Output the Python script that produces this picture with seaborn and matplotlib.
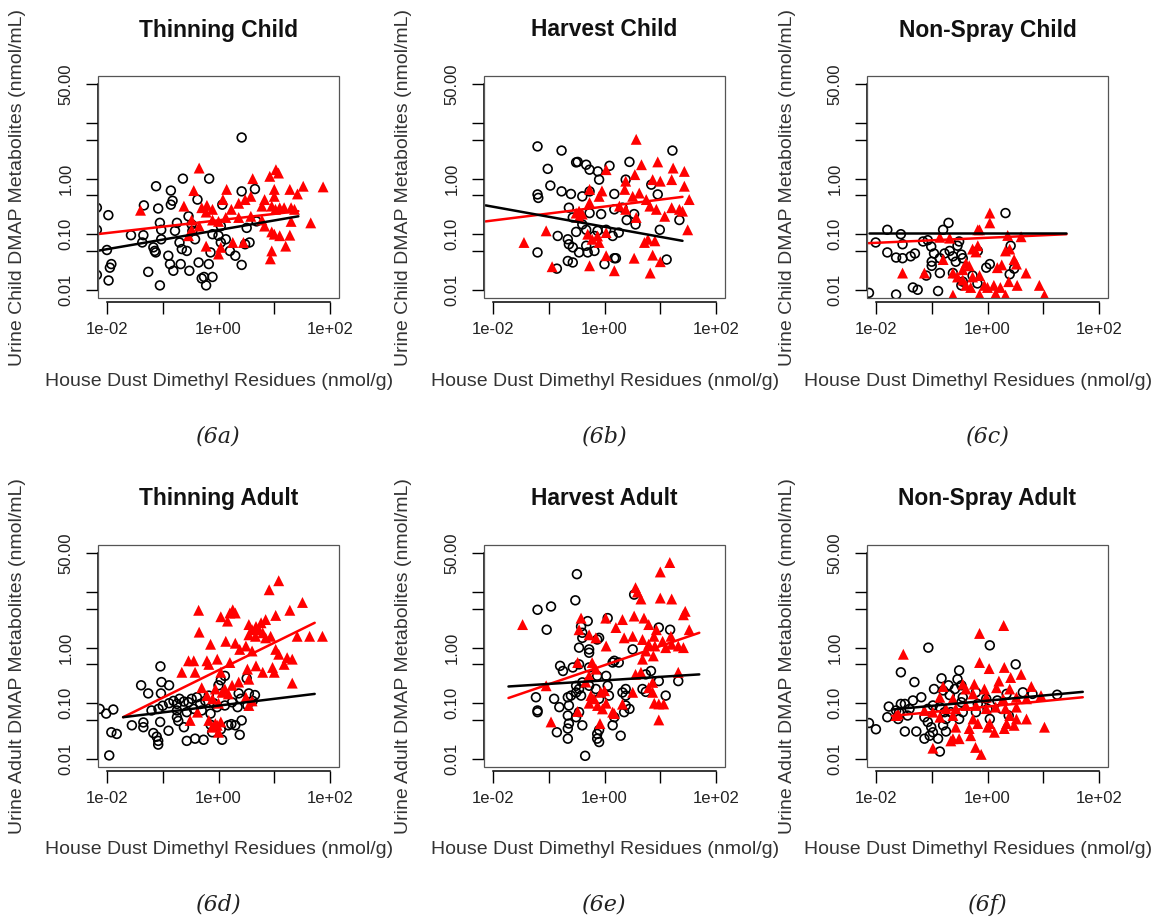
import numpy as np
import pandas as pd
import matplotlib
matplotlib.use("Agg")
import matplotlib.pyplot as plt
from matplotlib.patches import Rectangle
import seaborn as sns

sns.set_style("white")
plt.rcParams['font.family'] = ['Liberation Sans', 'DejaVu Sans']

# ---------------- data (x = house dust residue nmol/g, y = urine DMAP nmol/mL) -------------
titles = ["Thinning Child", "Harvest Child", "Non-Spray Child",
          "Thinning Adult", "Harvest Adult", "Non-Spray Adult"]
captions = ["(6a)", "(6b)", "(6c)", "(6d)", "(6e)", "(6f)"]
ylabels = ["Urine Child DMAP Metabolites (nmol/mL)"] * 3 + ["Urine Adult DMAP Metabolites (nmol/mL)"] * 3
xlabel = "House Dust Dimethyl Residues (nmol/g)"

x_ticks = [0.01, 0.1, 1, 10, 100]
x_ticklabels = ["1e-02", "", "1e+00", "", "1e+02"]
y_ticks = [0.01, 0.05, 0.1, 0.5, 1, 5, 10, 50]
y_ticklabels = ["0.01", "", "0.10", "", "1.00", "", "", "50.00"]

# Panel a: Thinning Child
a_circles = [(2.6,5.5),(0.23,1.0),(0.68,1.0),(0.076,0.73),(0.14,0.61),(0.15,0.4),(0.14,0.34),(0.046,0.33),
    (0.083,0.29),(0.0106,0.22),(0.0066,0.30),(0.0066,0.12),(0.010,0.052),(0.0066,0.0185),(0.0113,0.025),
    (0.012,0.029),(0.0107,0.0147),(0.055,0.021),(0.089,0.012),(0.027,0.096),(0.045,0.096),(0.043,0.071),
    (0.068,0.058),(0.072,0.050),(0.075,0.047),(0.089,0.16),(0.094,0.12),(0.094,0.081),(0.126,0.041),
    (0.135,0.029),(0.155,0.022),(0.21,0.029),(0.30,0.022),(0.166,0.115),(0.18,0.16),(0.20,0.071),(0.22,0.054),
    (0.27,0.05),(0.29,0.21),(0.33,0.15),(0.34,0.115),(0.38,0.081),(0.42,0.42),(0.44,0.031),(0.50,0.016),
    (0.55,0.017),(0.60,0.012),(0.78,0.017),(0.67,0.029),(0.72,0.047),(0.78,0.10),(1.0,0.094),(1.1,0.071),
    (1.17,0.34),(1.35,0.081),(1.6,0.05),(2.0,0.041),(2.6,0.028),(2.6,0.59),(4.5,0.65),(3.0,0.066),(3.6,0.071),
    (3.2,0.13),(4.8,0.17),(1.1,0.14)]
a_triangles = [(0.45,1.55),(10.7,1.45),(11.9,1.26),(8.3,1.1),(4.1,1.0),(75,0.71),(33,0.73),(19,0.64),(26,0.53),
    (10,0.64),(10,0.48),(1.4,0.64),(0.36,0.61),(0.04,0.27),(0.24,0.32),(0.5,0.3),(0.62,0.33),(0.78,0.28),
    (0.6,0.25),(3.8,0.48),(3.0,0.42),(2.3,0.36),(1.7,0.28),(1.2,0.42),(6.7,0.42),(6.0,0.32),(9.0,0.32),
    (10.5,0.28),(12.5,0.30),(15,0.30),(20,0.30),(23,0.28),(20,0.17),(45,0.16),(6.0,0.18),(6.7,0.14),(9.0,0.11),
    (10,0.10),(12.5,0.094),(19,0.096),(16,0.061),(9.0,0.05),(8.5,0.036),(1.8,0.071),(2.8,0.071),(1.0,0.044),
    (1.1,0.058),(0.6,0.061),(0.29,0.094),(0.33,0.12),(0.45,0.14),(0.33,0.18),(0.78,0.18),(1.0,0.17),
    (1.35,0.20),(2.3,0.20),(3.8,0.21)]
a_fit_x = [0.0066, 27]
a_fit_circ = [0.05, 0.21]
a_fit_tri = [0.10, 0.26]

# Panel b: Harvest Child
b_circles = [(0.063,3.8),(0.17,3.2),(16.5,3.2),(0.096,1.5),(0.31,1.96),(0.33,2.0),(0.54,1.45),(0.76,1.35),
    (0.47,1.78),(1.23,1.7),(2.8,2.0),(0.8,0.96),(2.4,0.96),(0.107,0.75),(0.063,0.52),(0.065,0.45),(0.17,0.59),
    (0.25,0.53),(0.40,0.48),(0.54,0.59),(1.5,0.53),(6.9,0.78),(9.0,0.52),(0.23,0.30),(0.35,0.23),(0.27,0.20),
    (0.54,0.24),(0.87,0.23),(1.5,0.28),(2.1,0.30),(2.5,0.18),(3.6,0.15),(3.4,0.23),(22,0.18),(9.8,0.12),
    (0.145,0.093),(0.22,0.081),(0.23,0.066),(0.27,0.058),(0.35,0.047),(0.47,0.062),(0.31,0.11),(0.40,0.15),
    (0.47,0.12),(0.66,0.093),(0.75,0.115),(1.07,0.12),(1.4,0.093),(1.8,0.107),(0.063,0.047),(0.14,0.024),
    (0.22,0.033),(0.27,0.031),(1.0,0.029),(1.5,0.037),(1.6,0.037),(13,0.035),(0.66,0.05),(0.5,0.047)]
b_triangles = [(3.7,5.1),(4.6,1.78),(9.0,2.0),(17,1.55),(27,1.35),(3.5,1.18),(2.4,0.9),(7.3,0.96),(10,0.9),
    (16,0.96),(27,0.73),(33,0.42),(0.9,0.6),(0.54,0.64),(0.8,0.48),(1.07,1.45),(0.54,0.37),(0.35,0.26),
    (0.31,0.24),(2.3,0.64),(3.2,0.48),(4.2,0.55),(5.6,0.42),(6.5,0.32),(8.5,0.28),(12,0.21),(16,0.30),
    (22,0.28),(25,0.26),(31,0.12),(3.7,0.20),(2.4,0.28),(1.85,0.32),(0.09,0.115),(0.036,0.071),(0.5,0.10),
    (0.6,0.081),(0.75,0.093),(1.07,0.107),(0.8,0.071),(5.2,0.071),(6.0,0.081),(8.0,0.076),(1.07,0.041),
    (3.4,0.037),(7.3,0.042),(10,0.032),(0.54,0.027),(1.5,0.022),(6.6,0.020),(0.115,0.026),(0.35,0.20),
    (0.40,0.23)]
b_fit_x = [0.0074, 25]
b_fit_circ = [0.33, 0.076]
b_fit_tri = [0.17, 0.47]

# Panel c: Non-Spray Child
c_circles = [(2.1,0.24),(0.2,0.16),(0.16,0.12),(0.016,0.12),(0.028,0.10),(0.0099,0.071),(0.016,0.047),
    (0.023,0.038),(0.030,0.037),(0.050,0.045),(0.042,0.040),(0.030,0.066),(0.070,0.074),(0.085,0.078),
    (0.098,0.060),(0.11,0.045),(0.10,0.032),(0.14,0.037),(0.17,0.045),(0.21,0.050),(0.24,0.040),(0.29,0.062),
    (0.31,0.074),(0.27,0.032),(0.34,0.043),(0.36,0.037),(0.67,0.050),(2.6,0.062),(0.10,0.027),(0.08,0.018),
    (0.14,0.020),(0.95,0.025),(1.1,0.029),(3.0,0.024),(0.046,0.011),(0.056,0.010),(0.13,0.0095),
    (0.023,0.0082),(0.0075,0.0088),(0.36,0.014),(0.34,0.012),(0.54,0.018),(0.66,0.013),(2.5,0.019),
    (0.24,0.020)]
c_triangles = [(1.1,0.24),(1.1,0.16),(0.67,0.12),(0.72,0.12),(0.14,0.088),(0.21,0.085),(2.3,0.095),(4.0,0.09),
    (0.67,0.062),(0.54,0.054),(0.62,0.048),(2.5,0.054),(2.1,0.05),(3.0,0.035),(3.3,0.029),(1.8,0.028),
    (1.5,0.025),(4.9,0.020),(8.5,0.012),(0.030,0.020),(0.074,0.020),(0.16,0.035),(0.41,0.030),(0.47,0.027),
    (0.36,0.023),(0.24,0.020),(0.29,0.017),(0.36,0.015),(0.54,0.017),(0.72,0.018),(0.41,0.012),(0.50,0.011),
    (0.88,0.012),(1.0,0.011),(1.3,0.012),(1.4,0.0085),(1.7,0.011),(2.4,0.014),(3.4,0.012),(0.24,0.008),
    (2.1,0.008),(0.72,0.0082),(10.5,0.008)]
c_fit_x = [0.0074, 26]
c_fit_circ = [0.107, 0.107]
c_fit_tri = [0.069, 0.10]

# Panel d: Thinning Adult
d_circles = [(0.091,0.46),(0.095,0.24),(0.13,0.21),(0.041,0.21),(0.055,0.15),(0.093,0.15),(1.3,0.31),(1.1,0.26),
    (3.2,0.28),(1.0,0.21),(4.5,0.14),(3.5,0.15),(2.3,0.15),(2.5,0.12),(0.0074,0.079),(0.0097,0.065),
    (0.013,0.077),(0.028,0.040),(0.045,0.045),(0.045,0.037),(0.012,0.030),(0.015,0.028),(0.011,0.0115),
    (0.068,0.029),(0.078,0.025),(0.083,0.021),(0.083,0.018),(0.127,0.032),(0.09,0.046),(0.19,0.048),
    (0.18,0.056),(0.24,0.037),(0.27,0.021),(0.38,0.023),(0.54,0.022),(0.77,0.030),(0.72,0.041),(1.16,0.022),
    (1.1,0.034),(1.5,0.040),(1.7,0.042),(2.0,0.040),(2.6,0.049),(2.4,0.027),(0.063,0.074),(0.084,0.079),
    (0.10,0.09),(0.13,0.10),(0.156,0.11),(0.18,0.097),(0.20,0.12),(0.24,0.107),(0.29,0.104),(0.33,0.12),
    (0.41,0.128),(0.47,0.097),(0.58,0.11),(0.67,0.137),(0.82,0.10),(0.94,0.085),(1.3,0.091),(1.75,0.104),
    (2.2,0.085),(3.3,0.091),(4.1,0.11),(0.18,0.074),(0.27,0.069),(0.36,0.079),(0.50,0.074),(0.72,0.065)]
d_triangles = [(12,16),(8.1,11),(32,6.5),(19,4.7),(0.44,4.7),(1.8,4.8),(2.0,4.2),(1.6,4.2),(1.1,3.6),(1.45,3.0),
    (10.6,3.8),(7.0,3.2),(5.8,2.8),(4.7,2.4),(3.5,2.6),(4.0,2.1),(5.3,2.1),(6.2,1.85),(7.0,1.5),(8.6,1.6),
    (4.6,1.6),(3.5,1.7),(0.45,1.9),(25.7,1.6),(43,1.6),(73,1.6),(0.72,1.15),(1.35,1.3),(2.0,1.2),(3.1,1.07),
    (4.0,0.87),(2.4,0.93),(10.6,0.93),(12,0.76),(17,0.66),(0.29,0.58),(0.36,0.58),(0.62,0.58),(0.67,0.50),
    (1.6,0.54),(0.95,0.62),(0.22,0.36),(0.38,0.36),(1.1,0.36),(4.7,0.47),(6.2,0.36),(9.3,0.44),(10,0.36),
    (15,0.50),(21,0.62),(21,0.23),(3.3,0.41),(3.5,0.27),(2.3,0.24),(1.75,0.21),(1.3,0.18),(0.88,0.18),
    (0.5,0.19),(0.62,0.137),(0.78,0.12),(1.0,0.10),(1.16,0.157),(1.5,0.147),(0.42,0.069),(0.31,0.049),
    (0.67,0.049),(0.88,0.043),(0.77,0.037),(1.1,0.046),(0.95,0.040),(1.0,0.030),(3.1,0.128),(3.5,0.091),
    (4.0,0.11)]
d_fit_x = [0.0195, 53]
d_fit_circ = [0.056, 0.147]
d_fit_tri = [0.056, 2.8]

# Panel e: Harvest Adult
e_circles = [(0.32,21),(0.30,7.1),(3.4,9.0),(0.063,4.8),(0.11,5.5),(0.092,2.1),(0.38,2.4),(0.50,3.0),(0.40,1.85),
    (0.40,1.5),(0.80,1.5),(0.74,1.4),(0.35,1.0),(0.53,0.93),(0.53,0.81),(1.14,3.4),(9.4,2.3),(15,2.1),
    (3.2,0.93),(1.8,0.54),(0.16,0.47),(0.18,0.38),(0.27,0.44),(0.35,0.50),(0.53,0.44),(0.74,0.31),(1.07,0.31),
    (1.4,0.54),(1.5,0.58),(9.4,0.25),(21,0.25),(5.5,0.33),(6.8,0.38),(12.5,0.137),(5.5,0.16),(4.8,0.18),
    (2.4,0.18),(2.4,0.137),(0.059,0.128),(0.125,0.12),(0.063,0.074),(0.063,0.069),(0.22,0.128),(0.25,0.137),
    (0.31,0.206),(0.35,0.18),(0.40,0.237),(0.31,0.156),(0.38,0.137),(0.23,0.091),(0.53,0.206),(0.70,0.18),
    (0.80,0.12),(1.14,0.206),(1.2,0.137),(2.1,0.156),(2.4,0.091),(2.8,0.079),(0.155,0.085),(0.22,0.060),
    (0.23,0.043),(0.22,0.035),(0.31,0.056),(0.35,0.069),(0.14,0.030),(0.22,0.023),(0.40,0.040),(0.74,0.028),
    (0.74,0.023),(0.80,0.020),(0.80,0.033),(1.4,0.040),(1.5,0.056),(1.95,0.026),(0.45,0.0113),(2.25,0.069)]
e_triangles = [(14.8,34),(10,23),(3.6,12),(3.9,10),(4.5,7.5),(10,7.8),(16,7.5),(28,4.5),(26,3.9),(33,2.1),
    (0.38,3.4),(1.05,3.4),(0.35,2.1),(0.53,1.7),(0.70,1.5),(1.07,1.07),(2.1,3.2),(3.4,3.7),(5.1,3.4),(6.2,2.6),
    (8.5,2.1),(7.7,1.6),(1.6,2.3),(2.25,1.5),(3.2,1.6),(4.8,1.4),(6.2,1.15),(8.0,1.07),(11,1.3),(12.5,1.0),
    (16,1.15),(21,1.07),(26,1.0),(15.5,1.6),(5.5,0.87),(4.8,0.62),(7.5,0.71),(0.034,2.6),(0.09,0.206),
    (0.11,0.046),(0.33,0.071),(0.33,0.54),(0.60,0.54),(0.70,0.41),(0.53,0.31),(0.46,0.24),(0.57,0.137),
    (0.53,0.10),(0.65,0.12),(0.86,0.157),(1.0,0.168),(1.07,0.10),(0.75,0.091),(0.92,0.079),(1.4,0.069),
    (1.5,0.065),(2.1,0.096),(3.2,0.157),(7.3,0.237),(7.3,0.157),(7.8,0.10),(9.4,0.097),(11.5,0.097),
    (6.2,0.19),(21,0.36),(9.4,0.05),(0.83,0.043),(4.5,0.36),(3.6,0.33)]
e_fit_x = [0.019, 50]
e_fit_circ = [0.20, 0.33]
e_fit_tri = [0.124, 1.85]

# Panel f: Non-Spray Adult
f_circles = [(0.087,1.0),(1.1,1.1),(3.2,0.50),(0.028,0.36),(0.049,0.24),(0.31,0.39),(0.29,0.27),(0.34,0.21),
    (0.26,0.18),(0.15,0.28),(0.11,0.18),(0.16,0.17),(0.20,0.21),(0.21,0.14),(0.065,0.128),(0.046,0.112),
    (0.033,0.097),(0.028,0.097),(0.017,0.087),(0.016,0.056),(0.023,0.074),(0.026,0.069),(0.040,0.079),
    (0.037,0.060),(0.025,0.052),(0.105,0.091),(0.085,0.079),(0.14,0.085),(0.17,0.069),(0.22,0.069),
    (0.074,0.056),(0.085,0.046),(0.098,0.037),(0.105,0.030),(0.092,0.026),(0.074,0.023),(0.13,0.023),
    (0.14,0.0135),(0.053,0.031),(0.033,0.031),(0.18,0.031),(0.010,0.034),(0.0075,0.044),(0.34,0.104),
    (0.36,0.128),(0.36,0.069),(0.31,0.052),(0.62,0.157),(0.67,0.097),(0.62,0.069),(0.95,0.12),(1.0,0.079),
    (1.1,0.052),(2.2,0.147),(2.4,0.060),(4.3,0.157),(6.4,0.147),(17.7,0.142),(1.5,0.112),(1.8,0.079),
    (0.18,0.052),(0.16,0.040)]
f_triangles = [(1.95,2.5),(0.72,1.8),(0.031,0.76),(0.72,0.54),(1.07,0.42),(2.0,0.44),(4.0,0.33),(2.6,0.29),
    (1.6,0.25),(6.1,0.20),(0.16,0.20),(0.36,0.22),(0.58,0.22),(0.88,0.18),(1.45,0.19),(2.5,0.18),(0.14,0.128),
    (0.24,0.12),(0.41,0.18),(0.55,0.147),(0.95,0.128),(1.9,0.12),(3.3,0.128),(5.0,0.12),(9.1,0.137),
    (0.18,0.08),(0.27,0.08),(0.41,0.091),(0.62,0.091),(0.95,0.08),(1.4,0.085),(2.1,0.08),(3.3,0.085),
    (0.074,0.074),(0.105,0.069),(0.14,0.056),(0.24,0.060),(2.5,0.060),(3.3,0.052),(5.0,0.052),(2.2,0.043),
    (1.1,0.043),(0.55,0.052),(0.67,0.043),(0.27,0.037),(0.47,0.035),(0.24,0.023),(0.22,0.021),(1.0,0.037),
    (1.33,0.030),(2.0,0.035),(3.0,0.040),(10.5,0.037),(0.50,0.026),(0.31,0.023),(0.105,0.0155),(0.61,0.016),
    (0.77,0.012),(0.023,0.060),(0.025,0.064)]
f_fit_x = [0.0195, 51]
f_fit_circ = [0.077, 0.16]
f_fit_tri = [0.059, 0.128]

panels = [
    (a_circles, a_triangles, a_fit_x, a_fit_circ, a_fit_tri),
    (b_circles, b_triangles, b_fit_x, b_fit_circ, b_fit_tri),
    (c_circles, c_triangles, c_fit_x, c_fit_circ, c_fit_tri),
    (d_circles, d_triangles, d_fit_x, d_fit_circ, d_fit_tri),
    (e_circles, e_triangles, e_fit_x, e_fit_circ, e_fit_tri),
    (f_circles, f_triangles, f_fit_x, f_fit_circ, f_fit_tri),
]

# ---------------- layout (pixels) ----------------
W, H = 1157, 918
col_left = [98, 484, 867]
row_top = [76, 545]
box_w, box_h = 241, 222
xlabel_center_px = [219, 605, 978]   # last column nudged left so the label stays inside the figure

fig = plt.figure(figsize=(W / 100, H / 100), dpi=100)

for i, (circ, tri, fx, fcirc, ftri) in enumerate(panels):
    r, c = divmod(i, 3)
    left = col_left[c] / W
    bottom = 1 - (row_top[r] + box_h) / H
    ax = fig.add_axes([left, bottom, box_w / W, box_h / H])

    dc = pd.DataFrame(circ, columns=["dust", "urine"])
    dt = pd.DataFrame(tri, columns=["dust", "urine"])

    sns.scatterplot(data=dc, x="dust", y="urine", marker="o", s=40, facecolor="none",
                    edgecolor="black", linewidth=1.2, ax=ax, zorder=3)
    sns.scatterplot(data=dt, x="dust", y="urine", marker="^", s=62, color="#ff0000",
                    edgecolor="none", linewidth=0, ax=ax, zorder=4)
    sns.lineplot(x=fx, y=ftri, color="#ff0000", linewidth=1.8, estimator=None, sort=False,
                 ax=ax, zorder=5)
    sns.lineplot(x=fx, y=fcirc, color="black", linewidth=1.8, estimator=None, sort=False,
                 ax=ax, zorder=6)

    ax.set_xscale("log")
    ax.set_yscale("log")
    ax.set_xlim(10 ** -2.16, 10 ** 2.16)
    ax.set_ylim(10 ** -2.148, 10 ** 1.847)
    ax.set_xticks(x_ticks)
    ax.set_xticklabels(x_ticklabels)
    ax.set_yticks(y_ticks)
    ax.set_yticklabels(y_ticklabels)
    ax.minorticks_off()
    ax.set_xlabel("")
    ax.set_ylabel("")

    for side in ["top", "right"]:
        ax.spines[side].set_visible(False)
    ax.spines["left"].set_bounds(0.01, 50)
    ax.spines["left"].set_color("black")
    ax.spines["left"].set_linewidth(1.1)
    ax.spines["bottom"].set_position(("outward", 3))
    ax.spines["bottom"].set_bounds(0.01, 100)
    ax.spines["bottom"].set_color("black")
    ax.spines["bottom"].set_linewidth(1.1)
    ax.add_patch(Rectangle((0, 0), 1, 1, transform=ax.transAxes, fill=False,
                           edgecolor="#555555", linewidth=0.9, clip_on=False, zorder=7))

    ax.tick_params(axis="both", which="major", direction="out", length=8.5, width=1.0,
                   color="black", labelsize=12, labelcolor="#222222",
                   bottom=True, left=True, top=False, right=False)
    ax.tick_params(axis="y", pad=9)
    ax.tick_params(axis="x", pad=6)
    for t in ax.get_yticklabels():
        t.set_rotation(90)
        t.set_va("center")

    ax.text(0.5, 1 + 46 / box_h, titles[i], transform=ax.transAxes, ha="center", va="center",
            fontsize=16.4, fontweight="bold", color="#111111")
    ax.text(-80 / box_w, 0.5, ylabels[i], transform=ax.transAxes, ha="center", va="center",
            rotation=90, fontsize=14, color="#333333")
    fig.text(xlabel_center_px[c] / W, 1 - (row_top[r] + box_h + 83) / H, xlabel,
             ha="center", va="center", fontsize=14, color="#333333")

    cap_x = (col_left[c] + box_w / 2) / W
    cap_y = 1 - (437 if r == 0 else 905) / H
    fig.text(cap_x, cap_y, captions[i], ha="center", va="center", fontsize=16,
             fontstyle="italic", family="DejaVu Serif", color="#222222")

fig.savefig("out.png", dpi=100)
